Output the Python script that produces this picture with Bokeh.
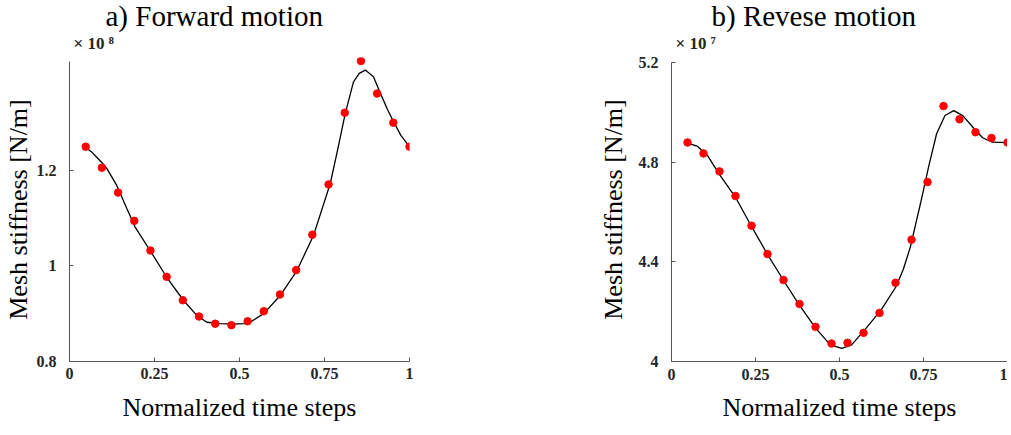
from bokeh.plotting import figure
from bokeh.layouts import row
from bokeh.models import FixedTicker, Range1d, Title
from bokeh.embed import file_html
from bokeh.resources import INLINE

# ---- data (stiffness in units of the axis multiplier) ----
step_x = [k / 21 for k in range(1, 22)]

fwd_points = [1.249, 1.205, 1.153, 1.094, 1.032, 0.977, 0.928, 0.894, 0.879, 0.876, 0.884,
              0.905, 0.940, 0.991, 1.065, 1.170, 1.320, 1.428, 1.360, 1.299, 1.249]
rev_points = [4.879, 4.835, 4.763, 4.664, 4.545, 4.431, 4.327, 4.231, 4.139, 4.072, 4.075,
              4.115, 4.195, 4.316, 4.489, 4.720, 5.025, 4.972, 4.920, 4.897, 4.879]

fwd_curve_x = [0.048, 0.065, 0.080, 0.095, 0.110, 0.139, 0.169, 0.193, 0.237, 0.286, 0.335,
               0.375, 0.404, 0.443, 0.482, 0.512, 0.526, 0.571, 0.620, 0.669, 0.718, 0.767,
               0.786, 0.811, 0.835, 0.852, 0.870, 0.894, 0.919, 0.935, 0.953, 0.975, 1.0]
fwd_curve_y = [1.247, 1.238, 1.227, 1.216, 1.203, 1.168, 1.119, 1.081, 1.032, 0.976, 0.928,
               0.896, 0.882, 0.879, 0.878, 0.879, 0.880, 0.900, 0.938, 0.990, 1.064, 1.172,
               1.234, 1.318, 1.384, 1.402, 1.409, 1.395, 1.353, 1.327, 1.301, 1.272, 1.249]

rev_curve_x = [0.049, 0.078, 0.107, 0.141, 0.190, 0.239, 0.287, 0.336, 0.380, 0.429, 0.468,
               0.490, 0.507, 0.536, 0.575, 0.624, 0.668, 0.690, 0.711, 0.741, 0.765, 0.789,
               0.814, 0.840, 0.867, 0.897, 0.926, 0.955, 1.0]
rev_curve_y = [4.876, 4.863, 4.827, 4.754, 4.660, 4.540, 4.427, 4.320, 4.227, 4.134, 4.074,
               4.060, 4.053, 4.067, 4.127, 4.207, 4.300, 4.370, 4.460, 4.634, 4.780, 4.914,
               4.987, 5.007, 4.987, 4.940, 4.898, 4.880, 4.878]

x_ticks = [0, 0.25, 0.5, 0.75, 1]
x_tick_labels = ["0", "0.25", "0.5", "0.75", "1"]
fwd_yticks = [0.8, 1.0, 1.2]
fwd_ytick_labels = ["0.8", "1", "1.2"]
rev_yticks = [4.0, 4.4, 4.8, 5.2]
rev_ytick_labels = ["4", "4.4", "4.8", "5.2"]

SERIF = "Liberation Serif"


def make_panel(title, multiplier, cx, cy, px, py, yr, ybounds, yticks, ylabels,
               frame_w, border_left, border_right, title_off, ylab_standoff,
               xtick_standoff, xlab_standoff):
    p = figure(frame_width=frame_w, frame_height=304, output_backend="svg",
               toolbar_location=None, x_range=Range1d(0, 1), y_range=Range1d(*yr),
               min_border_left=border_left, min_border_right=border_right,
               min_border_top=57, min_border_bottom=66)
    p.outline_line_color = None
    p.xgrid.visible = False
    p.ygrid.visible = False

    p.line(cx, cy, line_color="black", line_width=1.3)
    p.scatter(px, py, size=7.5, fill_color="#ff0000", line_color="#ff0000")

    for ax, ticks, labels in ((p.xaxis[0], x_ticks, x_tick_labels), (p.yaxis[0], yticks, ylabels)):
        ax.ticker = FixedTicker(ticks=ticks)
        ax.major_label_overrides = {t: l for t, l in zip(ticks, labels)}
        ax.minor_tick_line_color = None
        ax.major_tick_in = 4
        ax.major_tick_out = 0
        ax.axis_line_color = "#555555"
        ax.major_tick_line_color = "#555555"
        ax.major_label_text_font = SERIF
        ax.major_label_text_font_style = "bold"
        ax.major_label_text_font_size = "16px"
        ax.major_label_text_color = "#262626"
        ax.axis_label_text_font = SERIF
        ax.axis_label_text_font_style = "normal"
        ax.axis_label_text_font_size = "26px"
        ax.axis_label_text_color = "black"

    p.yaxis.bounds = ybounds
    p.xaxis.axis_label = "Normalized time steps"
    p.yaxis.axis_label = "Mesh stiffness [N/m]"
    p.xaxis.major_label_standoff = xtick_standoff
    p.xaxis.axis_label_standoff = xlab_standoff
    p.yaxis.major_label_standoff = 13
    p.yaxis.axis_label_standoff = ylab_standoff

    # multiplier line next to the frame, main title above it
    p.add_layout(Title(text=multiplier, align="left", offset=4, standoff=10,
                       text_font=SERIF, text_font_style="bold", text_font_size="17px",
                       text_color="#262626"), "above")
    p.title.text = title
    p.title.align = "left"
    p.title.offset = title_off
    try:
        p.title.standoff = -10
    except Exception:
        p.title.standoff = 0
    p.title.text_font = SERIF
    p.title.text_font_style = "normal"
    p.title.text_font_size = "29px"
    p.title.text_color = "black"
    return p


p1 = make_panel("a) Forward motion", "× 10 ⁸", fwd_curve_x, fwd_curve_y, step_x, fwd_points,
                (0.8, 1.4353), (0.8, 1.426), fwd_yticks, fwd_ytick_labels,
                340, 63, 186, 36, 1, 6, 11)
p2 = make_panel("b) Revese motion", "× 10 ⁷", rev_curve_x, rev_curve_y, step_x, rev_points,
                (4.0, 5.22), (4.0, 5.2), rev_yticks, rev_ytick_labels,
                336, 70, 0, 40, 8, 7, 10)

layout = row(p1, p2)
open("out.html", "w").write(file_html(layout, INLINE))
